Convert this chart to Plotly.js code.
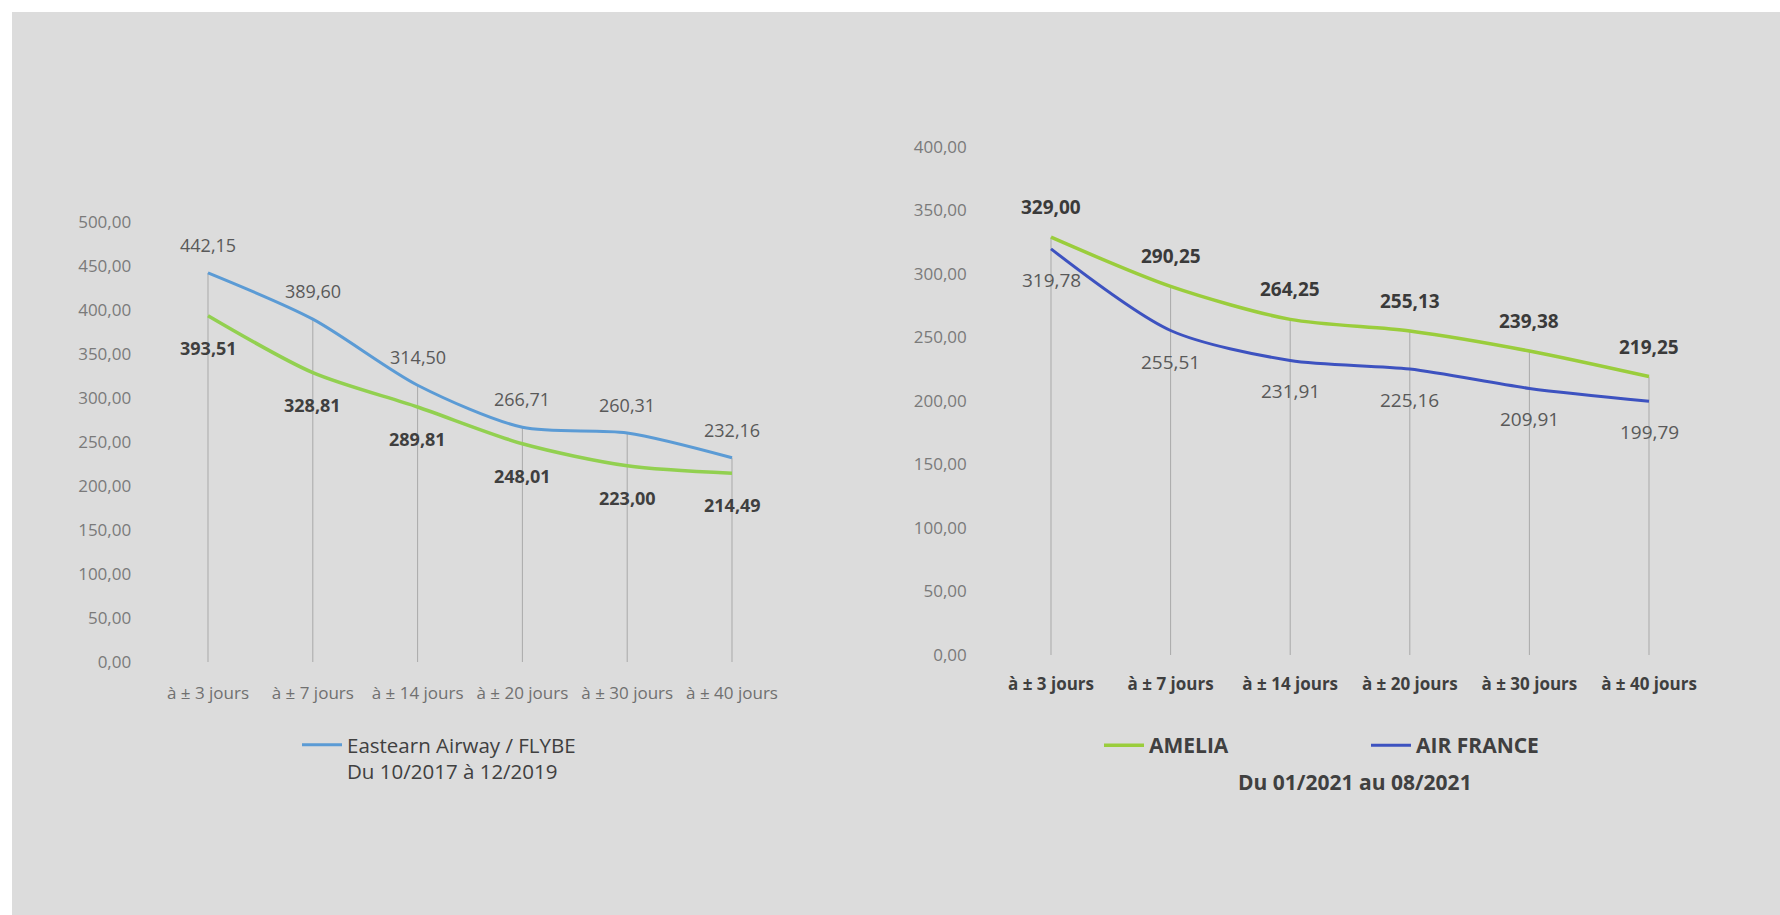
<!DOCTYPE html>
<html>
<head>
<meta charset="utf-8">
<script src="https://cdn.plot.ly/plotly-3.0.1.min.js"></script>
<style>
  html, body { margin: 0; padding: 0; background: #ffffff; }
  #chart { width: 1780px; height: 915px; }
</style>
</head>
<body>
<div id="chart"></div>
<script>
// ---- Data ----
const categories = ['à ± 3 jours', 'à ± 7 jours', 'à ± 14 jours', 'à ± 20 jours', 'à ± 30 jours', 'à ± 40 jours'];

// Left chart (Du 10/2017 à 12/2019)
const flybeName = 'Eastearn Airway / FLYBE<br>Du 10/2017 à 12/2019';
const flybeValues = [442.15, 389.60, 314.50, 266.71, 260.31, 232.16];
const leftGreenValues = [393.51, 328.81, 289.81, 248.01, 223.00, 214.49];

// Right chart (Du 01/2021 au 08/2021)
const ameliaName = 'AMELIA';
const ameliaValues = [329.00, 290.25, 264.25, 255.13, 239.38, 219.25];
const airFranceName = 'AIR FRANCE';
const airFranceValues = [319.78, 255.51, 231.91, 225.16, 209.91, 199.79];
const rightPeriod = 'Du 01/2021 au 08/2021';

// ---- Helpers ----
const FONT = 'Open Sans, Liberation Sans, sans-serif';
const fmt = v => v.toFixed(2).replace('.', ',');

function dropLines(a, b, xa, ya) {
  const xs = [], ys = [];
  categories.forEach((c, i) => {
    xs.push(c, c, null);
    ys.push(Math.max(a[i], b[i]), 0, null);
  });
  return {
    x: xs, y: ys, xaxis: xa, yaxis: ya, mode: 'lines', type: 'scatter',
    line: { color: '#a9a9a9', width: 1 }, showlegend: false, hoverinfo: 'skip', connectgaps: false
  };
}

function labels(values, xa, ya, shift, font) {
  return values.map((v, i) => ({
    x: categories[i], y: v, xref: xa, yref: ya, text: fmt(v),
    showarrow: false, yshift: shift, font: font
  }));
}

const traces = [
  dropLines(flybeValues, leftGreenValues, 'x', 'y'),
  dropLines(ameliaValues, airFranceValues, 'x2', 'y2'),
  {
    x: categories, y: leftGreenValues, xaxis: 'x', yaxis: 'y', type: 'scatter', mode: 'lines',
    line: { color: '#92d050', width: 3.5, shape: 'spline', smoothing: 0.8 }, showlegend: false, name: ''
  },
  {
    x: categories, y: flybeValues, xaxis: 'x', yaxis: 'y', type: 'scatter', mode: 'lines',
    line: { color: '#5b9bd5', width: 3, shape: 'spline', smoothing: 0.8 }, name: flybeName, legend: 'legend'
  },
  {
    x: categories, y: ameliaValues, xaxis: 'x2', yaxis: 'y2', type: 'scatter', mode: 'lines',
    line: { color: '#9acd3c', width: 3.5, shape: 'spline', smoothing: 0.8 }, name: ameliaName, legend: 'legend2'
  },
  {
    x: categories, y: airFranceValues, xaxis: 'x2', yaxis: 'y2', type: 'scatter', mode: 'lines',
    line: { color: '#3d52c0', width: 3, shape: 'spline', smoothing: 0.8 }, name: airFranceName, legend: 'legend2'
  }
];

const W = 1780, H = 915;
const px = v => v / W;
const py = v => 1 - v / H;

const annotations = [].concat(
  labels(flybeValues, 'x', 'y', 28, { family: FONT, size: 18, color: '#595959' }),
  labels(leftGreenValues, 'x', 'y', -32, { family: FONT, size: 18, color: '#3f3f3f', weight: 'bold' }),
  labels(ameliaValues, 'x2', 'y2', 30, { family: FONT, size: 19, color: '#3a3a3a', weight: 'bold' }),
  labels(airFranceValues, 'x2', 'y2', -31, { family: FONT, size: 19, color: '#595959' }),
  [{
    x: px(1355), y: py(782), xref: 'paper', yref: 'paper', text: rightPeriod, showarrow: false,
    xanchor: 'center', yanchor: 'middle', font: { family: FONT, size: 21, color: '#404040', weight: 'bold' }
  }]
);

const layout = {
  width: W, height: H,
  margin: { l: 0, r: 0, t: 0, b: 0 },
  paper_bgcolor: '#dcdcdc',
  plot_bgcolor: 'rgba(0,0,0,0)',
  separators: ', ',
  font: { family: FONT, color: '#404040' },
  hovermode: false,
  xaxis: {
    domain: [px(155.6), px(784.4)], anchor: 'y', type: 'category', range: [-0.5, 5.5],
    showgrid: false, zeroline: false, showline: false,
    ticks: 'outside', ticklen: 16, tickcolor: 'rgba(0,0,0,0)',
    tickfont: { family: FONT, size: 17, color: '#707070' }
  },
  yaxis: {
    domain: [py(662), py(222)], anchor: 'x', range: [0, 500], dtick: 50, tickformat: '.2f',
    showgrid: false, zeroline: false, showline: false,
    ticks: 'outside', ticklen: 20, tickcolor: 'rgba(0,0,0,0)',
    tickfont: { family: FONT, size: 17, color: '#7a7a7a' }
  },
  xaxis2: {
    domain: [px(991.2), px(1708.8)], anchor: 'y2', type: 'category', range: [-0.5, 5.5],
    showgrid: false, zeroline: false, showline: false,
    ticks: 'outside', ticklen: 14, tickcolor: 'rgba(0,0,0,0)',
    tickfont: { family: FONT, size: 17, color: '#3f3f3f', weight: 'bold' }
  },
  yaxis2: {
    domain: [py(655), py(147)], anchor: 'x2', range: [0, 400], dtick: 50, tickformat: '.2f',
    showgrid: false, zeroline: false, showline: false,
    ticks: 'outside', ticklen: 20, tickcolor: 'rgba(0,0,0,0)',
    tickfont: { family: FONT, size: 17, color: '#7a7a7a' }
  },
  legend: {
    x: px(297), y: py(725), xanchor: 'left', yanchor: 'top',
    bgcolor: 'rgba(0,0,0,0)', valign: 'top', itemwidth: 40,
    font: { family: FONT, size: 20.5, color: '#404040' }
  },
  legend2: {
    x: px(1099), y: py(725), xanchor: 'left', yanchor: 'top', orientation: 'h',
    entrywidth: 212, entrywidthmode: 'pixels',
    bgcolor: 'rgba(0,0,0,0)', itemwidth: 40,
    font: { family: FONT, size: 21, color: '#404040', weight: 'bold' }
  },
  shapes: [
    { type: 'rect', xref: 'paper', yref: 'paper', x0: 0, x1: 1, y0: py(12), y1: 1, fillcolor: '#ffffff', line: { width: 0 }, layer: 'below' },
    { type: 'rect', xref: 'paper', yref: 'paper', x0: 0, x1: px(12), y0: 0, y1: 1, fillcolor: '#ffffff', line: { width: 0 }, layer: 'below' }
  ],
  annotations: annotations
};

Plotly.newPlot('chart', traces, layout, { displayModeBar: false, staticPlot: true });
</script>
</body>
</html>
